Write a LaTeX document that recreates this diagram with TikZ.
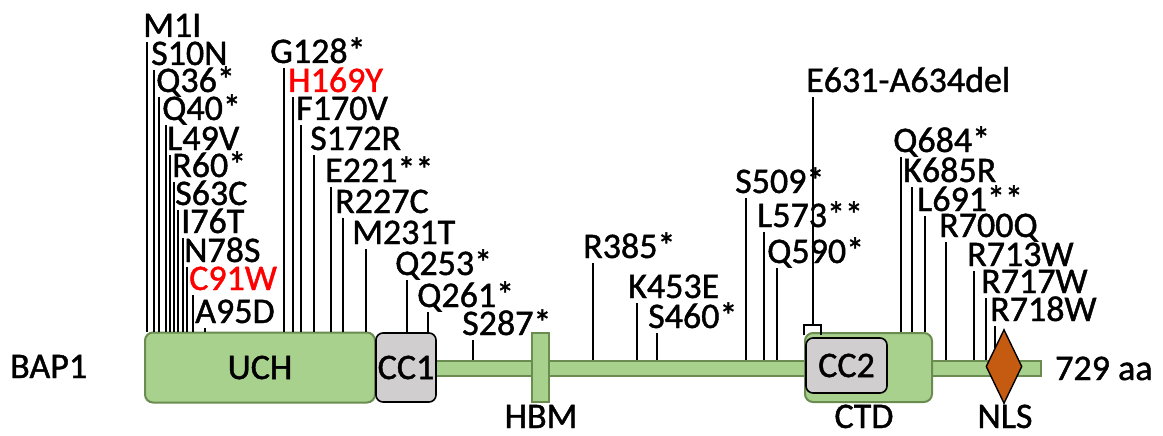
\documentclass[tikz,border=0pt]{standalone}
\usepackage{fontspec}
\setmainfont{Carlito}[FakeBold=1.2]
\usetikzlibrary{shapes.geometric}

\definecolor{domgreen}{RGB}{169,209,142}
\definecolor{domedge}{RGB}{106,140,80}
\definecolor{ccgray}{RGB}{208,206,206}
\definecolor{nlsorange}{RGB}{197,90,17}
\definecolor{mutred}{RGB}{255,0,0}

\begin{document}
\begin{tikzpicture}[x=1pt,y=-1pt,
    big/.style={font=\fontsize{36}{36}\selectfont},
    lbl/.style={big,inner sep=0pt,anchor=base west},
    dom/.style={draw=domedge,fill=domgreen,line width=2pt,rounded corners=8pt,inner sep=0pt},
    ccbox/.style={big,draw=black,fill=ccgray,line width=1.6pt,rounded corners=7pt,inner sep=0pt},
    stem/.style={line width=1.1pt}]
  \useasboundingbox (0,0) rectangle (1163,436);

  % protein backbone and domains
  \node[dom,rounded corners=0pt,minimum width=607pt,minimum height=15pt] (bar) at (737,368) {};
  \node[dom,rounded corners=0pt,minimum width=17pt,minimum height=69pt] (hbm) at (540.5,367.5) {};
  \node[dom,big,minimum width=230pt,minimum height=70pt] (uch) at (260,367.5) {UCH};
  \node[ccbox,minimum width=60pt,minimum height=69pt] (cc1) at (406,367.5) {CC1};
  \node[dom,minimum width=127pt,minimum height=69pt] (ctd) at (868.5,367.5) {};
  \node[ccbox,minimum width=81pt,minimum height=55pt] (cc2) at (846.5,365.5) {CC2};
  \node[diamond,draw=black,fill=nlsorange,line width=1.4pt,inner sep=0pt,
        minimum width=36pt,minimum height=74pt] (nls) at (1004,366.5) {};

  \node[lbl] (name) at (10,378) {BAP1};
  \node[lbl] (len) at (1055,380) {729 aa};
  \node[lbl,anchor=base] (hbmlbl) at (541,428) {HBM};
  \node[lbl,anchor=base] (ctdlbl) at (864,428) {CTD};
  \node[lbl,anchor=base] (nlslbl) at (1005,428) {NLS};

  % point mutations: text x / baseline / line offset / target
  \foreach \n/\tx/\by/\dx/\dn/\col/\txt in {
      a/143/37/4/uch.north/black/M1I, b/151/65/3/uch.north/black/S10N,
      c/156/92/3/uch.north/black/Q36*, d/162/120/4/uch.north/black/Q40*,
      e/167/150/3/uch.north/black/L49V, f/172/177/2/uch.north/black/R60*,
      g/175/205/3/uch.north/black/S63C, h/181/233/2/uch.north/black/I76T,
      i/184/262/3/uch.north/black/N78S, j/189/290/4/uch.north/mutred/C91W,
      k/195/323/10/uch.north/black/A95D, l/270/63/14/uch.north/black/G128*,
      m/288/92/5/uch.north/mutred/H169Y, o/296/120/5/uch.north/black/F170V,
      p/310/150/4/uch.north/black/S172R, q/325/182/6/uch.north/black/E221**,
      r/335/213/8/uch.north/black/R227C, s/352/244/14/uch.north/black/M231T,
      t/395/275/12/cc1.north/black/Q253*, u/417/307/11/cc1.north/black/Q261*,
      v/462/335/11/bar.north/black/S287*, w/583/258/10/bar.north/black/R385*,
      x/628/298/9/bar.north/black/K453E, y/648/328/9/bar.north/black/S460*,
      z/735/193/11/bar.north/black/S509*, aa/757/227/7/bar.north/black/L573**,
      ab/767/263/10/bar.north/black/Q590*, ac/893/152/8/ctd.north/black/Q684*,
      ad/903/182/9/ctd.north/black/K685R, ae/917/211/8/ctd.north/black/L691**,
      af/939/237/7/bar.north/black/R700Q, ag/967/266/7/bar.north/black/R713W,
      ah/981/293/5/bar.north/black/R717W, ai/990/321/5/nls.north west/black/R718W} {
    \node[lbl,text=\col] (t\n) at (\tx,\by) {\txt};
    \coordinate (l\n) at ([shift={(\dx,5)}]t\n.base west);
    \draw[stem] (l\n) -- (l\n |- \dn);
  }

  % in-frame deletion
  \node[lbl] (del) at (806,92) {E631-A634del};
  \coordinate (dtop) at ([shift={(7,5)}]del.base west);
  \coordinate (dbr) at (812.5,325);
  \draw[stem] (dtop) -- (dtop |- dbr) -- (dbr);
  \draw[line width=2pt] (804,335) |- (dbr) -| (821,335);
\end{tikzpicture}
\end{document}
